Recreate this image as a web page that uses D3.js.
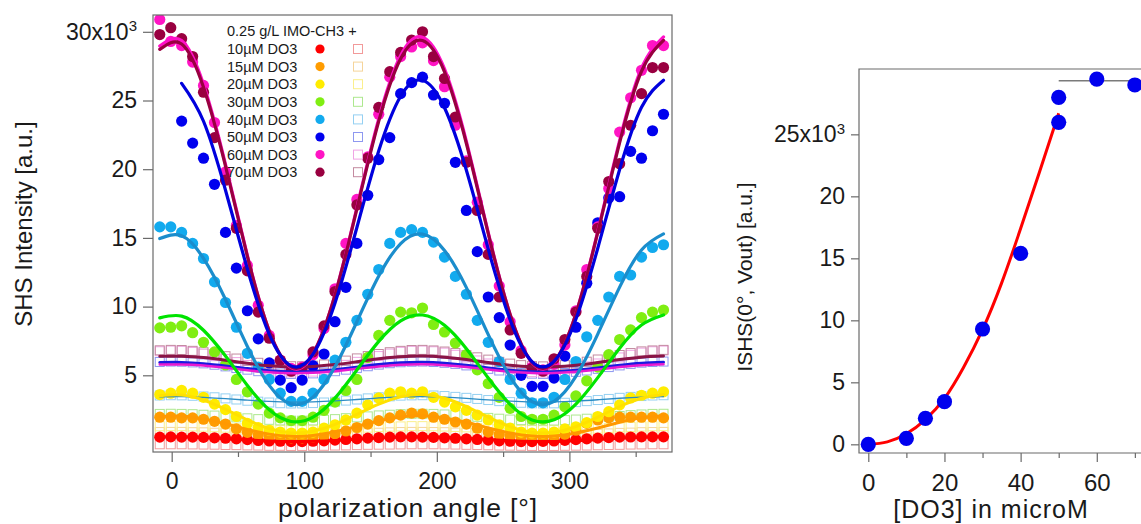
<!DOCTYPE html>
<html>
<head>
<meta charset="utf-8">
<script src="https://cdn.jsdelivr.net/npm/d3@7"></script>
<style>
  body { margin: 0; background: #fff; }
  text { font-family: "Liberation Sans", Arial, sans-serif; fill: #1a1a1a; }
</style>
</head>
<body>
<svg id="chart" width="1141" height="524"></svg>
<script>
// ---- left panel data: polarization scans ----
var angles = [-9, -0.7, 7.5, 15.8, 24, 32.3, 40.6, 48.8, 57.1, 65.3, 73.6, 81.9, 90.1, 98.4, 106.6, 114.9,
  123.2, 131.4, 139.7, 147.9, 156.2, 164.5, 172.7, 181, 189.2, 197.5, 205.8, 214, 222.3, 230.5, 238.8, 247.1,
  255.3, 263.6, 271.8, 280.1, 288.4, 296.6, 304.9, 313.1, 321.4, 329.7, 337.9, 346.2, 354.4, 362.7, 371];
var fitAngles = [-9, 7.5, 24, 40.6, 57.1, 73.6, 90.1, 106.6, 123.2, 139.7, 156.2, 172.7, 189.2, 205.8,
  222.3, 238.8, 255.3, 271.8, 288.4, 304.9, 321.4, 337.9, 354.4, 371];

var concLabels = ['10', '15', '20', '30', '40', '50', '60', '70'];

// filled circles
var dots10 = [500,520,500,500,480,450,420,380,320,260, 220,200,180,180,200,230,280,330,380,430, 470,500,520,520,500,480,450,420,380,330, 280,230,200,180,180,190,220,270,320,380, 430,470,500,510,520,520,520];
var dots15 = [1950,1950,1900,1900,1800,1650,1450,1100,850,650, 550,500,450,450,500,600,750,950,1200,1450, 1700,1900,2100,2250,2200,1950,1800,1600,1450,1150, 870,700,580,520,500,500,550,700,1000,1500, 1750,1900,1950,1950,1950,1950,1900];
var dots20 = [3600,3700,3900,3700,3400,2900,2500,2000,1500,1200, 1000,870,800,800,870,1150,1400,1750,2250,2850, 3350,3700,3800,3700,3800,3400,3050,2700,2450,2100, 1750,1400,1150,870,800,800,870,1100,1250,1550, 2000,2350,2850,3350,3550,3700,3800];
var dots30 = [8450,8500,8600,8100,7400,6700,5750,4700,3800,2900, 2250,1900,1700,1700,1950,2450,3050,3900,4700,6300, 7900,9000,9600,9550,9900,8700,8150,7350,6500,5400, 4400,3400,2600,2000,1800,1800,2100,2700,3500,4600, 5600,6500,7600,8300,9200,9600,9750];
var dots40 = [15800,15800,15400,14600,13500,11800,10300,8500,6600,5600, 4700,3700,3100,3100,3700,4700,6100,7400,9000,10900, 12700,14600,15400,15600,15400,14700,13600,12200,10900,9000, 7400,6000,4700,3700,3000,3000,3400,4700,6000,7800, 9000,10700,12200,12300,13600,14300,14500];
var dots50 = [null,null,23500,21900,20800,18900,15400,12800,9700,7650, 5900,4650,4100,4650,5700,6550,8900,11400,14600,18100, 20700,22300,25500,26300,26700,25400,24800,20500,17000,14000, 10700,9200,7200,5000,4200,4200,4800,6400,8500,11700, 16100,17900,18000,21300,20800,22800,24000];
var dots60 = [30900,29300,29000,27800,26100,23400,19800,15900,13000,10100, 7900,6100,5500,5600,6500,8400,11300,14600,17800,20900, 24000,26700,28200,28900,29200,27900,26000,23200,20600,17600, 14500,11500,8900,6800,5600,5400,5800,7200,9700,12700, 15800,18600,22700,25200,27200,29000,29000];
var dots70 = [29800,30300,29500,28200,25600,22300,19200,15700,12600,9600, 7700,6100,5300,5500,6700,8600,11100,13800,17400,20800, 24500,27100,28500,29400,30000,28200,26600,23800,20500,17000, 13800,10700,8300,6600,5500,5300,6200,7600,9600,12200, 15700,19100,20400,23200,25500,27400,27400];

// open squares
var sq10 = [-20,-20,-20,-30,-40,-50,-70,-80,-100,-110, -130,-130,-140,-140,-130,-130,-110,-100,-80,-60, -50,-40,-30,-20,-20,-20,-30,-40,-60,-70, -90,-110,-120,-130,-140,-140,-140,-130,-120,-110, -90,-70,-60,-40,-30,-20,-20];
var sq15 = [870,880,880,860,850,820,790,760,720,690, 670,650,640,640,650,670,690,720,760,790, 820,850,870,880,880,870,860,830,800,770, 740,710,680,660,640,640,640,660,680,710, 740,770,810,830,860,870,880];
var sq20 = [1290,1300,1300,1280,1260,1220,1190,1140,1100,1070, 1030,1010,1000,1000,1010,1040,1070,1100,1150,1190, 1230,1260,1280,1300,1300,1290,1270,1240,1210,1170, 1120,1080,1050,1020,1010,1000,1010,1020,1050,1080, 1120,1170,1210,1240,1270,1290,1300];
var sq30 = [2190,2200,2190,2170,2130,2070,2010,1940,1870,1810, 1760,1720,1700,1700,1720,1760,1810,1880,1940,2010, 2080,2130,2170,2200,2200,2190,2150,2100,2040,1980, 1900,1840,1780,1740,1710,1700,1710,1740,1780,1840, 1910,1980,2040,2100,2150,2190,2200];
var sq40 = [3530,3550,3540,3510,3460,3400,3320,3240,3150,3080, 3020,2970,2950,2950,2980,3020,3080,3160,3240,3320, 3400,3470,3520,3540,3550,3530,3490,3430,3360,3280, 3200,3120,3050,3000,2960,2950,2960,3000,3050,3120, 3200,3280,3360,3430,3490,3530,3550];
var sq50 = [5970,6000,5990,5940,5870,5770,5650,5530,5410,5300, 5200,5140,5100,5110,5140,5210,5300,5410,5540,5660, 5780,5880,5950,5990,6000,5970,5910,5830,5720,5600, 5470,5350,5250,5170,5120,5100,5120,5170,5250,5350, 5470,5600,5720,5830,5920,5970,6000];
var sq60 = [6750,6800,6780,6700,6570,6390,6190,5960,5750,5550, 5380,5270,5210,5210,5270,5390,5560,5760,5980,6200, 6400,6580,6710,6780,6800,6750,6650,6490,6300,6080, 5860,5650,5460,5320,5230,5200,5230,5320,5470,5650, 5860,6080,6300,6490,6650,6750,6800];
var sq70 = [6820,6850,6840,6780,6680,6550,6390,6220,6060,5910, 5790,5700,5660,5660,5700,5790,5920,6070,6230,6400, 6550,6680,6780,6840,6850,6810,6730,6620,6470,6310, 6140,5980,5850,5740,5670,5650,5670,5740,5850,5990, 6150,6310,6480,6620,6740,6810,6850];

// fitted curves (read at fitAngles)
var fit10 = [510,520,470,390,300,220,180,200,260,350,440,500,520,490,410,320,240,190,190,240,320,410,490,520];
var fit15 = [2010,2030,1830,1470,1060,720,560,620,890,1280,1680,1960,2050,1900,1580,1170,800,580,580,800,1170,1580,1910,2050];
var fit20 = [3520,3570,3200,2520,1760,1120,810,930,1430,2160,2910,3440,3600,3330,2720,1950,1260,850,860,1270,1960,2730,3330,3600];
var fit30 = [9180,9310,8280,6400,4260,2490,1640,1950,3340,5390,7470,8960,9390,8640,6940,4800,2880,1750,1760,2900,4830,6970,8660,9390];
var fit40 = [14950,15150,13510,10520,7100,4270,2910,3410,5630,8900,12220,14590,15280,14090,11380,7960,4890,3090,3100,4920,8000,11420,14120,15290];
var fit50 = [null,26250,23490,18470,12740,7980,5690,6540,10270,15760,21340,25310,26470,24470,19920,14180,9030,6000,6020,9080,14250,19980,24510,26480];
var fit60 = [28960,29360,26170,20360,13710,8210,5560,6540,10860,17210,23670,28270,29610,27300,22030,15380,9420,5910,5930,9480,15470,22100,27350,29630];
var fit70 = [28720,29110,25960,20220,13660,8230,5610,6580,10840,17110,23500,28040,29360,27080,21870,15310,9420,5950,5980,9480,15400,21940,27130,29380];
var fitSq40 = [3440,3450,3390,3300,3190,3100,3050,3070,3140,3240,3350,3430,3450,3410,3320,3210,3120,3060,3060,3120,3220,3330,3410,3450];
var fitSq50 = [5930,5940,5850,5680,5490,5330,5250,5280,5410,5590,5780,5910,5950,5880,5730,5540,5370,5260,5260,5370,5540,5730,5880,5950];
var fitSq60 = [5780,5790,5710,5550,5370,5220,5150,5180,5300,5470,5640,5760,5800,5740,5600,5420,5260,5160,5160,5260,5420,5600,5740,5800];
var fitSq70 = [6380,6390,6290,6090,5870,5690,5600,5640,5780,5990,6200,6350,6400,6320,6150,5930,5730,5620,5620,5730,5930,6150,6320,6400];

var yTicksL = [5000, 10000, 15000, 20000, 25000, 30000];
var xMajorL = [0, 100, 200, 300], xMinorL = [50, 150, 250, 350];

// ---- right panel data: ISHS vs concentration ----
var conc = [0, 10, 15, 20, 30, 40, 50, 50, 60, 70];
var ishs = [0, 480, 2100, 3440, 9300, 15400, 25970, 27980, 29460, 28980];
var fitConc = [0, 5, 10, 15, 20, 25, 30, 35, 40, 45, 50];
var fitIshs = [0, 200, 850, 2000, 3700, 6200, 9250, 13000, 17400, 22000, 26700];
var plateauConc = [50, 80], plateauIshs = [29330, 29330];
var yTicksR = [0, 5000, 10000, 15000, 20000, 25000];
var xMajorR = [0, 20, 40, 60], xMinorR = [10, 30, 50, 70];

// ---- drawing ----
var svg = d3.select('#chart');

var dotColors = ['#ff0000', '#ff9c00', '#ffec00', '#80ee12', '#12aaee', '#0000ee', '#ff14c4', '#990040'];
var sqColors = ['#f29a9a', '#f5d49a', '#fbef8c', '#ade88e', '#94d0f2', '#8e98f0', '#f0a4e4', '#c48aa0'];

var dots = [dots10, dots15, dots20, dots30, dots40, dots50, dots60, dots70],
    squares = [sq10, sq15, sq20, sq30, sq40, sq50, sq60, sq70];

// fits drawn in this order (last on top)
var fits = [
  { v: fitSq70, c: '#8a1446', w: 3 },
  { v: fitSq50, c: '#1a1ae0', w: 3 },
  { v: fitSq60, c: '#e81ad0', w: 2.5 },
  { v: fitSq40, c: '#2b8cc4', w: 1.3 },
  { v: fit10, c: '#ff0000', w: 3 },
  { v: fit15, c: '#ff9900', w: 3 },
  { v: fit20, c: '#ffe100', w: 3 },
  { v: fit30, c: '#00e400', w: 3.2 },
  { v: fit40, c: '#1b8dcc', w: 3.2 },
  { v: fit60, c: '#ff10c8', w: 3.2 },
  { v: fit70, c: '#990040', w: 3.2 },
  { v: fit50, c: '#0000dd', w: 3.2 }
];

var x = d3.scaleLinear().domain([-14.1, 377.4]).range([153, 672]),
    y = d3.scaleLinear().domain([-582, 31223]).range([452, 15]);

var gL = svg.append('g');
svg.append('clipPath').attr('id', 'clipL')
  .append('rect').attr('x', 153).attr('y', 15).attr('width', 519).attr('height', 437);

var plot = gL.append('g').attr('clip-path', 'url(#clipL)');

// open squares
squares.forEach(function(s, k) {
  plot.append('g').selectAll('rect')
    .data(s.map(function(v, i) { return [angles[i], v]; }).filter(function(d) { return d[1] != null; }))
    .enter().append('rect')
    .attr('x', function(d) { return x(d[0]) - 4.5; })
    .attr('y', function(d) { return y(d[1]) - 4.5; })
    .attr('width', 9).attr('height', 9)
    .attr('fill', 'none')
    .attr('stroke', sqColors[k])
    .attr('stroke-width', 1);
});

// filled dots
dots.forEach(function(s, k) {
  plot.append('g').selectAll('circle')
    .data(s.map(function(v, i) { return [angles[i], v]; }).filter(function(d) { return d[1] != null; }))
    .enter().append('circle')
    .attr('cx', function(d) { return x(d[0]); })
    .attr('cy', function(d) { return y(d[1]); })
    .attr('r', 5.6)
    .attr('fill', dotColors[k]);
});

var fitLine = d3.line()
  .defined(function(d) { return d[1] != null; })
  .x(function(d) { return x(d[0]); })
  .y(function(d) { return y(d[1]); })
  .curve(d3.curveNatural);

fits.forEach(function(f) {
  plot.append('path')
    .datum(f.v.map(function(v, i) { return [fitAngles[i], v]; }))
    .attr('d', fitLine)
    .attr('fill', 'none')
    .attr('stroke', f.c)
    .attr('stroke-width', f.w)
    .attr('stroke-linecap', 'round');
});

gL.append('rect').attr('x', 153).attr('y', 15).attr('width', 519).attr('height', 437)
  .attr('fill', 'none').attr('stroke', '#6a6a6a').attr('stroke-width', 1.2);

// left axis
var yAxisL = gL.append('g').attr('transform', 'translate(153,0)')
  .call(d3.axisLeft(y).tickValues(yTicksL).tickSize(10).tickPadding(6)
    .tickFormat(function(d) { return d / 1000; }));
styleAxis(yAxisL, 23);
yAxisL.selectAll('.tick text').filter(function(d) { return d === 30000; })
  .text('30x10').append('tspan').attr('dy', '-0.55em').attr('font-size', 15).text('3');

// bottom axis
var xAxisL = gL.append('g').attr('transform', 'translate(0,452)')
  .call(d3.axisBottom(x).tickValues(xMajorL).tickSize(10).tickPadding(11));
styleAxis(xAxisL, 23);
gL.append('g').attr('transform', 'translate(0,452)')
  .call(d3.axisBottom(x).tickValues(xMinorL).tickSize(5).tickFormat(''))
  .call(function(g) { styleAxis(g, 23); });

gL.append('text').attr('x', 408).attr('y', 517).attr('text-anchor', 'middle')
  .attr('font-size', 26.5).attr('letter-spacing', 0.9).text('polarization angle [°]');
gL.append('text').attr('transform', 'translate(32,224) rotate(-90)').attr('text-anchor', 'middle')
  .attr('font-size', 24).text('SHS Intensity [a.u.]');

// legend
var leg = gL.append('g');
leg.append('text').attr('x', 227).attr('y', 36).attr('font-size', 14.5).text('0.25 g/L IMO-CH3 +');
concLabels.forEach(function(c, k) {
  var cy = 49 + k * 17.6;
  leg.append('text').attr('x', 227).attr('y', cy + 5.2).attr('font-size', 14.5).text(c + 'µM DO3');
  leg.append('circle').attr('cx', 320).attr('cy', cy).attr('r', 4.6).attr('fill', dotColors[k]);
  leg.append('rect').attr('x', 353.5).attr('y', cy - 4.5).attr('width', 9).attr('height', 9)
    .attr('fill', 'none').attr('stroke', sqColors[k]);
});

// ---- right panel ----
var xR = d3.scaleLinear().domain([-2.44, 76.6]).range([859, 1160]),
    yR = d3.scaleLinear().domain([-700, 30270]).range([453, 69]);
var gR = svg.append('g');

gR.append('path').attr('d', 'M1160,69H859V453H1160')
  .attr('fill', 'none').attr('stroke', '#6a6a6a').attr('stroke-width', 1.2);

var yAxisR = gR.append('g').attr('transform', 'translate(859,0)')
  .call(d3.axisLeft(yR).tickValues(yTicksR).tickSize(8).tickPadding(6)
    .tickFormat(function(d) { return d / 1000; }));
styleAxis(yAxisR, 23);
yAxisR.selectAll('.tick text').filter(function(d) { return d === 25000; })
  .text('25x10').append('tspan').attr('dy', '-0.55em').attr('font-size', 15).text('3');

var xAxisR = gR.append('g').attr('transform', 'translate(0,453)')
  .call(d3.axisBottom(xR).tickValues(xMajorR).tickSize(9).tickPadding(12));
styleAxis(xAxisR, 24);
gR.append('g').attr('transform', 'translate(0,453)')
  .call(d3.axisBottom(xR).tickValues(xMinorR).tickSize(5).tickFormat(''))
  .call(function(g) { styleAxis(g, 24); });

var lineR = d3.line()
  .x(function(d) { return xR(d[0]); })
  .y(function(d) { return yR(d[1]); });

gR.append('path')
  .datum(plateauConc.map(function(c, i) { return [c, plateauIshs[i]]; }))
  .attr('d', lineR).attr('fill', 'none').attr('stroke', '#7a7a7a').attr('stroke-width', 1.5);

gR.append('path')
  .datum(fitConc.map(function(c, i) { return [c, fitIshs[i]]; }))
  .attr('d', lineR.curve(d3.curveNatural))
  .attr('fill', 'none').attr('stroke', '#ff0000').attr('stroke-width', 3);

gR.append('g').selectAll('circle')
  .data(conc.map(function(c, i) { return [c, ishs[i]]; }))
  .enter().append('circle')
  .attr('cx', function(d) { return xR(d[0]); })
  .attr('cy', function(d) { return yR(d[1]); })
  .attr('r', 7.6)
  .attr('fill', '#0000ee');

gR.append('text').attr('x', 991).attr('y', 518).attr('text-anchor', 'middle')
  .attr('font-size', 25).attr('letter-spacing', 1).text('[DO3] in microM');
gR.append('text').attr('transform', 'translate(752,277) rotate(-90)').attr('text-anchor', 'middle')
  .attr('font-size', 21).text('ISHS(0°, Vout) [a.u.]');

function styleAxis(g, fs) {
  g.select('.domain').remove();
  g.selectAll('.tick line').attr('stroke', '#6a6a6a').attr('stroke-width', 1.2);
  g.selectAll('.tick text').attr('font-size', fs).attr('fill', '#1a1a1a')
    .attr('font-family', '"Liberation Sans", Arial, sans-serif');
}
</script>
</body>
</html>
